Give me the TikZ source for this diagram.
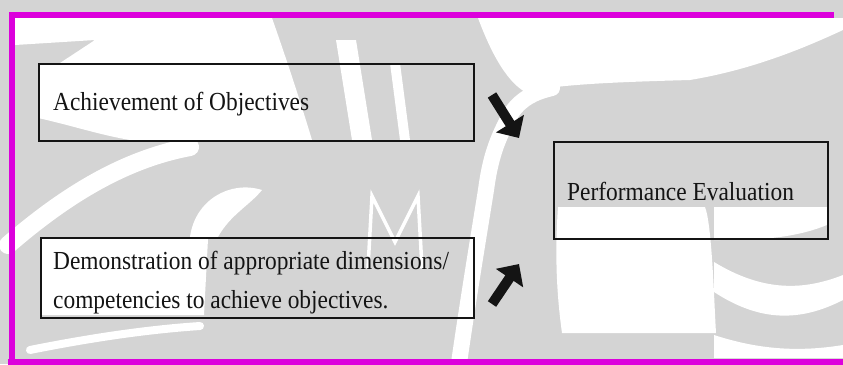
\documentclass[tikz,border=0pt]{standalone}
\usepackage{fontspec}
\setmainfont{Liberation Serif}[FakeStretch=0.9]
\usetikzlibrary{arrows.meta}
\definecolor{wm}{RGB}{212,212,212}
\definecolor{framepink}{RGB}{220,0,220}
\definecolor{ink}{RGB}{20,20,20}
\tikzset{
  boxnode/.style={draw=ink, line width=1.8pt, inner sep=0pt, anchor=north west},
  lbl/.style={anchor=base west, inner sep=0pt, text=ink, font=\fontsize{26}{39}\selectfont},
  blockarrow/.style={draw=ink, line width=10pt, -{Triangle[length=17pt,width=32pt]}},
  gap/.style={fill=white, draw=none},
  gapline/.style={draw=white, line cap=round},
}
\begin{document}
\begin{tikzpicture}[x=1pt,y=-1pt]
\useasboundingbox (0,0) rectangle (843,364);
\clip (0,0) rectangle (843,364);

% faint emblem in the background: grey ground with white gaps
\fill[wm] (0,0) rectangle (843,364);
% upper-left open area
\fill[gap] (15,18) -- (272,18) .. controls (285,55) and (300,100) .. (312,140)
  -- (130,140) .. controls (100,135) and (70,125) .. (38,118)
  -- (38,63) -- (60,63) -- (95,40) -- (15,45) -- cycle;
\fill[gap] (336,40) -- (356,40) -- (372,140) -- (352,140) -- cycle;
\fill[gap] (390,63) -- (400,63) -- (410,140) -- (400,140) -- cycle;
% upper-right open area
\fill[gap] (478,18) -- (843,18) -- (843,30) .. controls (800,50) and (750,70) .. (690,80)
  .. controls (620,82) and (560,84) .. (525,92) .. controls (505,80) and (490,50) .. (478,18) -- cycle;
% ribbon between the centre and the right-hand curl
\draw[gapline, line width=16pt] (458,370) .. controls (468,300) and (478,240) .. (486,190)
  .. controls (490,160) and (496,140) .. (512,112) .. controls (522,98) and (535,92) .. (552,88);
% open area under the evaluation box
\fill[gap] (558,207) -- (705,207) .. controls (712,225) and (714,300) .. (716,333)
  -- (562,333) .. controls (556,290) and (555,250) .. (558,207) -- cycle;
% gaps between the crescents at lower right
\fill[gap] (714,262) .. controls (760,290) and (800,292) .. (843,275) -- (843,300)
  .. controls (800,322) and (760,322) .. (714,292) -- cycle;
\fill[gap] (714,335) .. controls (760,350) and (800,352) .. (843,345) -- (843,358) -- (714,358) -- cycle;
\fill[gap] (714,207) -- (827,207) -- (827,225) .. controls (790,240) and (750,240) .. (714,240) -- cycle;
% left ribbon and curl
\draw[gapline, line width=18pt] (8,245) .. controls (60,200) and (120,160) .. (190,147);
\fill[gap] (190,237) .. controls (195,200) and (230,180) .. (262,190)
  .. controls (250,205) and (230,215) .. (218,237) -- cycle;
\fill[gap] (42,239) -- (208,239) -- (204,315) -- (42,315) -- cycle;
\draw[gapline, line width=8pt] (30,350) .. controls (80,340) and (140,330) .. (200,326);
% centre mark
\draw[gapline, line width=3.5pt, line cap=butt] (368,268) -- (372,196) -- (395,242) -- (418,196) -- (422,268);

% frame
\draw[framepink, line width=6pt] (11.5,364) -- (11.5,14.5) -- (834,14.5);
\draw[framepink, line width=6pt] (8,361.5) -- (843,361.5);

% boxes
\node[boxnode, minimum width=435pt, minimum height=77pt] (b1) at (38,63) {};
\node[boxnode, minimum width=433pt, minimum height=80pt] (b2) at (40,237) {};
\node[boxnode, minimum width=274pt, minimum height=97pt] (b3) at (553,141) {};

% labels
\node[lbl] (t1) at (53,110) {Achievement of Objectives};
\node[lbl] (t2a) at (53,269) {Demonstration of appropriate dimensions/};
\node[lbl] (t2b) at (53,308) {competencies to achieve objectives.};
\node[lbl] (t3) at (567,200) {Performance Evaluation};

% block arrows
\coordinate (a1s) at (492,95);
\coordinate (a1e) at (519,138);
\coordinate (a2s) at (492,304);
\coordinate (a2e) at (519,264);
\draw[blockarrow] (a1s) -- (a1e);
\draw[blockarrow] (a2s) -- (a2e);
\end{tikzpicture}
\end{document}
